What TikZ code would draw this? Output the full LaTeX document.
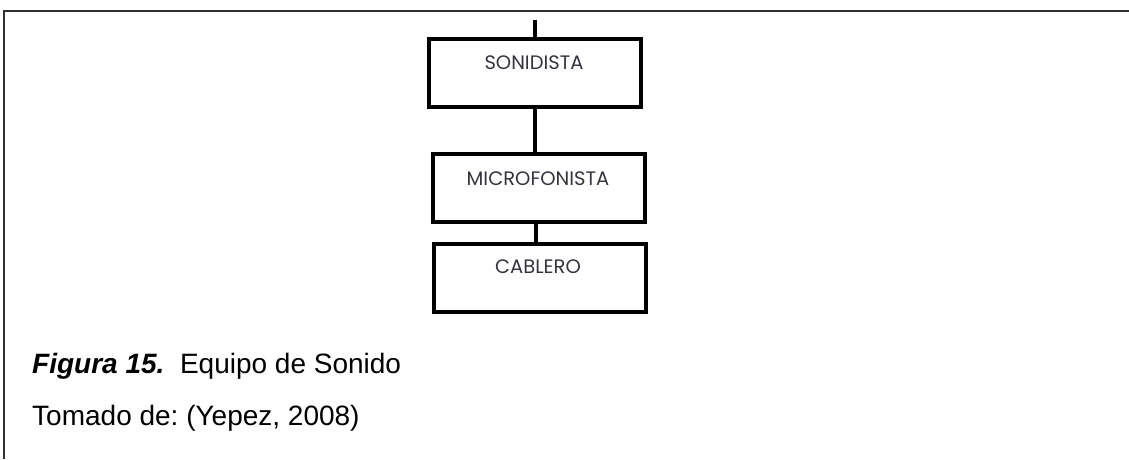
\documentclass[tikz,border=0pt]{standalone}
\usepackage{fontspec}
\setmainfont{Liberation Sans}
\newfontfamily\boxfont{Poppins}
\definecolor{boxtext}{HTML}{34343F}
\definecolor{framec}{HTML}{303030}
\frenchspacing
\begin{document}
\begin{tikzpicture}[x=1pt,y=-1pt,
  orgbox/.style={draw=black,line width=4pt,minimum width=212pt,minimum height=68pt,inner sep=0pt},
  boxlabel/.style={font=\boxfont\fontsize{19.5}{22}\selectfont,text=boxtext,inner sep=0pt},
  link/.style={draw=black,line width=3.5pt},
  captext/.style={font=\fontsize{28}{32}\selectfont,anchor=base west,inner sep=0pt,text=black}]
\useasboundingbox (0,0) rectangle (1129,459);
\draw[framec,line width=2pt] (4,459) -- (4,11) -- (1129,11);
\node[orgbox] (s) at (534.5,72.5) {};
\node[orgbox] (m) at (539,188) {};
\node[orgbox] (c) at (539.5,277.5) {};
\node[boxlabel] (st) at (534,63) {SONIDISTA};
\node[boxlabel] (mt) at (538,179) {MICROFONISTA};
\node[boxlabel] (ct) at (538,267) {CABLERO};
\coordinate (top) at (535,20);
\draw[link] (top) -- (top |- s.north);
\draw[link] (top |- s.south) -- (top |- m.north);
\draw[link] (536,223) coordinate (m1) -- (m1 |- c.north);
\node[captext] (cap) at (32,373) {\textbf{\textit{Figura 15.}}\ \ Equipo de Sonido};
\node[captext] (src) at (32,425) {Tomado de: (Yepez, 2008)};
\end{tikzpicture}
\end{document}
